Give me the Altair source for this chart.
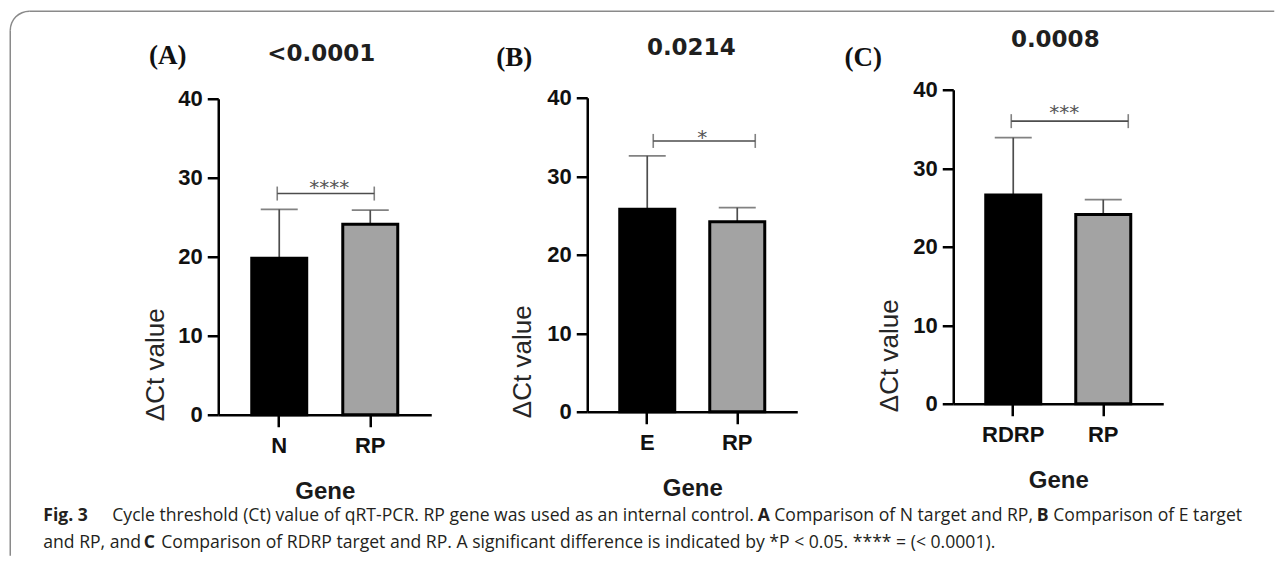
import altair as alt
import pandas as pd

# ---------------- data ----------------
genes_a = ["N", "RP"]
genes_b = ["E", "RP"]
genes_c = ["RDRP", "RP"]
mean_a = [19.8, 24.1]
sd_a = [6.2, 1.8]
mean_b = [25.8, 24.2]
sd_b = [6.8, 1.8]
mean_c = [26.6, 24.1]
sd_c = [7.3, 1.9]
bracket_heights = [28.0, 34.5, 36.0]
significance = ["****", "*", "***"]
panel_letters = ["(A)", "(B)", "(C)"]
p_values = ["<0.0001", "0.0214", "0.0008"]
y_tick_values = [0, 10, 20, 30, 40]
y_title = "ΔCt value"
x_title = "Gene"
caption_line1 = ["Fig. 3",
                 "Cycle threshold (Ct) value of qRT-PCR. RP gene was used as an internal control.",
                 "A", "Comparison of N target and RP,", "B", "Comparison of E target"]
caption_line2 = ["and RP, and", "C",
                 "Comparison of RDRP target and RP. A significant difference is indicated by *P < 0.05. **** = (< 0.0001)."]

# ---------------- style / layout ----------------
BAR_FILLS = ["#000000", "#a3a3a3"]
ERR = "#4d4d4d"
FRAME = "#8a8a8a"
AX = "Liberation Sans"
OX, OY = 218, 89  # absolute origin of panel A plot area

layouts = [
    dict(w=213, pi=0.396, po=0.368, yr=[325, 9], xoff=0, ytx=-55, yty=274.5,
         lx=-50.5, ly=-26, px=103, py=-29, bl=-2, br=4, sx=50, sdy=0.9),
    dict(w=210, pi=0.389, po=0.361, yr=[322, 8], xoff=-3, ytx=-57, yty=271.5,
         lx=-73, ly=-24, px=104, py=-34.6, bl=6, br=18, sx=55, sdy=2.9),
    dict(w=210, pi=0.389, po=0.361, yr=[314, 0], xoff=-11, ytx=-56, yty=265.5,
         lx=-90, ly=-24, px=102, py=-42.6, bl=-2, br=25, sx=51, sdy=-2.6),
]

CAP_FONT_SIZE = 17.6
cap1_layout = [(43, True), (112, False), (757.6, True), (774, False), (1036.6, True), (1053, False)]
cap2_layout = [(43, False), (143.6, True), (161, False)]
CAP_Y1, CAP_Y2 = 520, 547


def make_panel(i, genes, means, sds):
    L = layouts[i]
    df = pd.DataFrame({"gene": genes, "mean": means, "sd": sds})
    df["upper"] = df["mean"] + df["sd"]
    df["fill"] = BAR_FILLS

    xscale = alt.Scale(domain=genes, paddingInner=L["pi"], paddingOuter=L["po"])
    yscale = alt.Scale(domain=[0, 40], range=L["yr"], nice=False, zero=True)

    xaxis = alt.Axis(title=x_title, labelAngle=0, offset=L["xoff"],
                     domainColor="black", domainWidth=2.5, tickColor="black",
                     tickWidth=2.5, tickSize=12, labelPadding=9,
                     labelFont=AX, labelFontSize=22, labelFontWeight="bold",
                     labelColor="#111111", titleFont=AX, titleFontSize=24,
                     titleFontWeight="bold", titleColor="#1a1a1a",
                     titleY=84, titleBaseline="alphabetic")
    yaxis = alt.Axis(title=y_title, values=y_tick_values, grid=False,
                     domainColor="black", domainWidth=2.5, tickColor="black",
                     tickWidth=2.5, tickSize=11, labelPadding=5,
                     labelFont=AX, labelFontSize=22, labelFontWeight="bold",
                     labelColor="#111111", titleFont=AX, titleFontSize=26,
                     titleFontWeight="normal", titleColor="#262626",
                     titleAngle=270, titleAlign="center", titleBaseline="alphabetic",
                     titleX=L["ytx"], titleY=L["yty"])

    def X(field):
        return alt.X(field, scale=xscale, axis=xaxis)

    def Y(field):
        return alt.Y(field, scale=yscale, axis=yaxis)

    base = alt.Chart(df)
    bars = base.mark_bar(stroke="black", strokeWidth=3).encode(
        x=X("gene:N"), y=Y("mean:Q"), color=alt.Color("fill:N", scale=None))
    err = base.mark_rule(color=ERR, strokeWidth=1.7).encode(
        x=X("gene:N"), y=Y("mean:Q"), y2="upper:Q")
    cap = base.mark_tick(color=ERR, size=37, thickness=1.7).encode(
        x=X("gene:N"), y=Y("upper:Q"))

    bdf = pd.DataFrame({"g1": [genes[0]], "g2": [genes[1]],
                        "yb": [bracket_heights[i]], "star": [significance[i]]})
    bb = alt.Chart(bdf)
    br_line = bb.mark_rule(color=ERR, strokeWidth=1.6, xOffset=L["bl"], x2Offset=L["br"]).encode(
        x=X("g1:N"), x2="g2:N", y=Y("yb:Q"))
    br_left = bb.mark_tick(color=ERR, orient="vertical", size=14, thickness=1.6,
                           xOffset=L["bl"]).encode(x=X("g1:N"), y=Y("yb:Q"))
    br_right = bb.mark_tick(color=ERR, orient="vertical", size=14, thickness=1.6,
                            xOffset=L["br"]).encode(x=X("g2:N"), y=Y("yb:Q"))
    stars = bb.mark_text(font="DejaVu Sans", fontSize=20, color="#555555",
                         align="center", baseline="alphabetic",
                         xOffset=L["sx"], dy=L["sdy"]).encode(
        x=X("g1:N"), y=Y("yb:Q"), text="star:N")

    tdf = pd.DataFrame({"letter": [panel_letters[i]], "p": [p_values[i]]})
    letter = alt.Chart(tdf).mark_text(font="Liberation Serif", fontWeight="bold", fontSize=27,
                                      color="#111111", align="center", baseline="alphabetic").encode(
        x=alt.value(L["lx"]), y=alt.value(L["ly"]), text="letter:N")
    pval = alt.Chart(tdf).mark_text(font="DejaVu Sans", fontWeight="bold", fontSize=23,
                                    color="#1f1f1f", align="center", baseline="alphabetic").encode(
        x=alt.value(L["px"]), y=alt.value(L["py"]), text="p:N")

    layers = [err, cap, bars, br_line, br_left, br_right, stars, letter, pval]

    if i == 0:
        one = pd.DataFrame({"k": [0]})
        fr = alt.Chart(one)
        left_line = fr.mark_rule(color=FRAME, strokeWidth=1.5).encode(
            x=alt.value(10 - OX), y=alt.value(29.5 - OY), y2=alt.value(555 - OY))
        top_line = fr.mark_rule(color=FRAME, strokeWidth=1.5).encode(
            x=alt.value(29 - OX), x2=alt.value(1274 - OX), y=alt.value(10.5 - OY))
        corner = fr.mark_arc(color=FRAME, theta=4.712389, theta2=6.283185,
                             radius=19.75, radius2=18.25).encode(
            x=alt.value(29 - OX), y=alt.value(29.5 - OY))
        layers += [left_line, top_line, corner]
        for texts, lay, yy in ((caption_line1, cap1_layout, CAP_Y1),
                               (caption_line2, cap2_layout, CAP_Y2)):
            for t, (ax, bold) in zip(texts, lay):
                seg = alt.Chart(pd.DataFrame({"t": [t]})).mark_text(
                    font="Open Sans", fontSize=CAP_FONT_SIZE,
                    fontWeight="bold" if bold else "normal",
                    color="#231f20", align="left", baseline="alphabetic").encode(
                    x=alt.value(ax - OX), y=alt.value(yy - OY), text="t:N")
                layers.append(seg)

    return alt.layer(*layers).properties(width=L["w"], height=325)


pa = make_panel(0, genes_a, mean_a, sd_a)
pb = make_panel(1, genes_b, mean_b, sd_b)
pc = make_panel(2, genes_c, mean_c, sd_c)

chart = alt.hconcat(pa, pb, pc, spacing=156, bounds="flush").properties(
    padding={"left": 1.25, "top": 1.75, "right": 0, "bottom": 0}
).configure_view(stroke=None)

chart.save("out.html", embed_options={"renderer": "svg", "actions": False})
